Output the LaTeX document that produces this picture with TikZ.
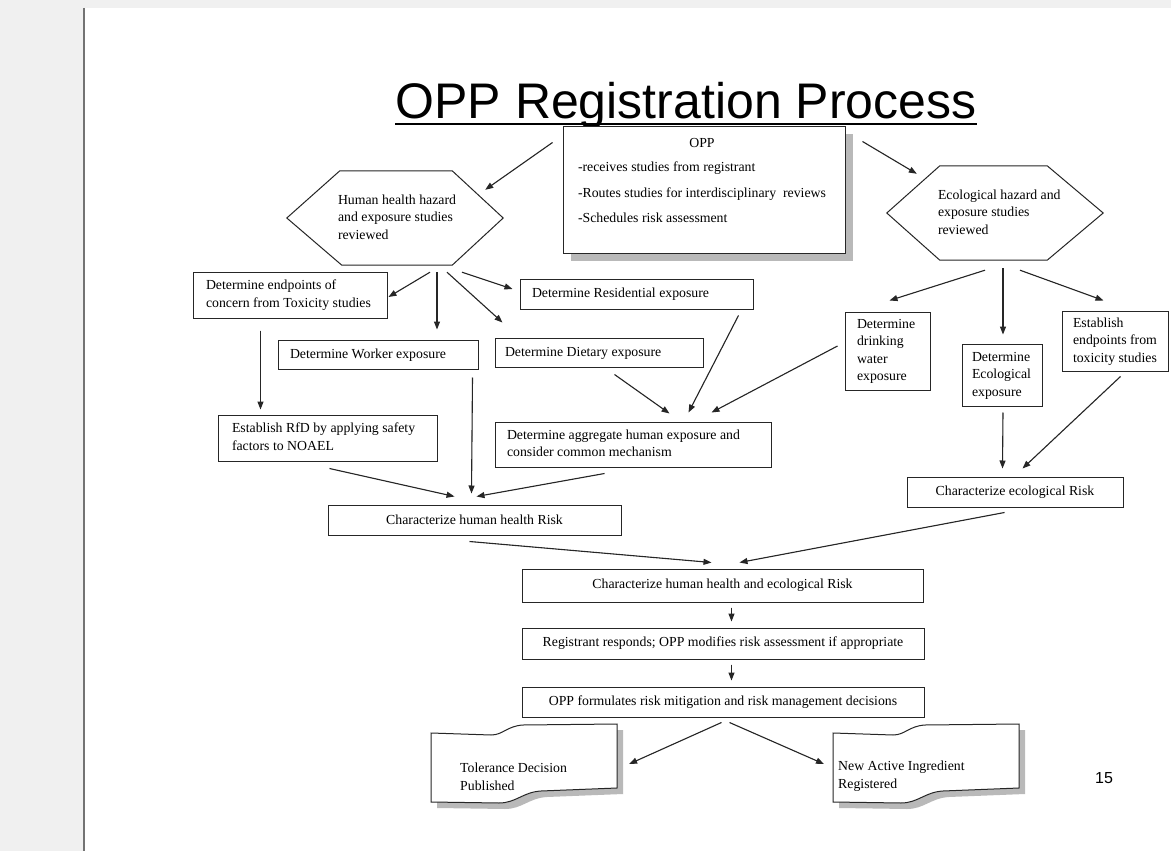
\documentclass[tikz,border=0pt]{standalone}
\usepackage{fontspec}
\setmainfont{Liberation Serif}
\newfontfamily\sansf{Liberation Sans}
\usetikzlibrary{arrows.meta,calc}
\newcommand\lbx[2]{\hbox to #1pt{\begin{tabular}{@{}l@{}}#2\end{tabular}\hss}}
\tikzset{
  docshape/.pic={
    \fill[gray!55] (6,19) -- (66,21) .. controls (78,21) and (82,12) .. (98,11) -- (192,10) -- (192,74) -- (116,77) .. controls (98,78) and (91,89) .. (74,89) -- (6,88) -- cycle;
    \draw[fill=white, line width=1pt, draw=black!85] (0,13) -- (60,15) .. controls (72,15) and (76,6) .. (92,5) -- (186,4) -- (186,68) -- (110,71) .. controls (92,72) and (85,83) .. (68,83) -- (0,82) -- cycle;
  }
}
\begin{document}
\begin{tikzpicture}[x=1pt,y=-1pt,
  txt/.style={font=\fontsize{13.8}{17.5}\selectfont},
  box/.style={txt, draw=black!85, line width=1pt, fill=white, inner sep=0pt},
  hexnode/.style={txt, minimum width=216pt, minimum height=94pt, inner sep=0pt},
  arr/.style={-{Triangle[length=8pt,width=6pt]}, line width=1.1pt, draw=black!85, fill=black!85},
]
\useasboundingbox (0,0) rectangle (1171,851);
\fill[gray!12] (0,0) rectangle (1171,851);
\fill[white] (85,8) rectangle (1171,851);
\draw[black!55, line width=1.2pt] (84,8) -- (84,851);

% title
\node[font=\sansf\fontsize{50}{60}\selectfont, inner sep=0pt, anchor=base] (title) at (686,118) {OPP Registration Process};
\draw[line width=2.6pt] ($(title.base west)+(0,6)$) -- ($(title.base east)+(0,6)$);

% OPP box
\fill[gray!55] (571,134) rectangle (853,261);
\node[box, minimum width=282pt, minimum height=127pt] (opp) at (704,189.5)
  {\lbx{252}{\multicolumn{1}{@{}c@{}}{OPP}\\[6.5pt]
   -receives studies from registrant\\[8.5pt]
   -Routes studies for interdisciplinary\ \ reviews\\[7.5pt]
   -Schedules risk assessment\\[17pt]}};

% hexagons
\node[hexnode] (hh) at (395,218) {\lbx{114}{Human health hazard\\and exposure studies\\reviewed}};
\draw[line width=1pt, black!85] (hh.west) -- ($(hh.north west)+(53,0)$) -- ($(hh.north east)+(-51,0)$) -- (hh.east) -- ($(hh.south east)+(-51,0)$) -- ($(hh.south west)+(55,0)$) -- cycle;
\node[hexnode] (eh) at (995,213) {\lbx{114}{Ecological hazard and\\exposure studies\\reviewed}};
\draw[line width=1pt, black!85] (eh.west) -- ($(eh.north west)+(53,0)$) -- ($(eh.north east)+(-56,0)$) -- (eh.east) -- ($(eh.south east)+(-56,0)$) -- ($(eh.south west)+(53,0)$) -- cycle;

% human side boxes
\node[box, minimum width=194pt, minimum height=46pt] (endp) at (290,295) {\lbx{168}{Determine endpoints of\\concern from Toxicity studies}};
\node[box, minimum width=200pt, minimum height=29pt] (worker) at (378,354.5) {\lbx{176}{Determine Worker exposure}};
\node[box, minimum width=208pt, minimum height=29pt] (diet) at (599,352.5) {\lbx{188}{Determine Dietary exposure}};
\node[box, minimum width=233pt, minimum height=30pt] (resid) at (636.5,294) {\lbx{209}{Determine Residential exposure}};
\node[box, minimum width=219pt, minimum height=46pt] (rfd) at (327.5,438) {\lbx{191}{Establish RfD by applying safety\\factors to NOAEL}};
\node[box, minimum width=276pt, minimum height=45pt] (agg) at (633,444.5) {\lbx{252}{Determine aggregate human exposure and\\consider common mechanism}};
\node[box, minimum width=293pt, minimum height=30pt] (charh) at (474.5,520) {Characterize human health Risk};

% ecological side boxes
\node[box, minimum width=85pt, minimum height=78pt] (drink) at (887.5,351) {\lbx{61}{Determine\\drinking\\water\\exposure}};
\node[box, minimum width=80pt, minimum height=62pt] (ecoexp) at (1002,375) {\lbx{60}{Determine\\Ecological\\exposure}};
\node[box, minimum width=106pt, minimum height=60pt] (estab) at (1115,341) {\lbx{84}{Establish\\endpoints from\\toxicity studies}};
\node[box, minimum width=216pt, minimum height=30pt] (charE) at (1015,492) {Characterize ecological Risk};

% lower chain
\node[box, minimum width=401pt, minimum height=33pt] (comb) at (722.5,585.5) {Characterize human health and ecological Risk};
\node[box, minimum width=402pt, minimum height=31pt] (regis) at (723,643.5) {Registrant responds; OPP modifies risk assessment if appropriate};
\node[box, minimum width=402pt, minimum height=30pt] (formul) at (723,702) {OPP formulates risk mitigation and risk management decisions};

% documents
\pic at (431,720) {docshape};
\pic at (833,720) {docshape};
\node[txt, inner sep=0pt, anchor=west] (tol) at (460,778) {\begin{tabular}{@{}l@{}}Tolerance Decision\\Published\end{tabular}};
\node[txt, inner sep=0pt, anchor=west] (nai) at (838,776) {\begin{tabular}{@{}l@{}}New Active Ingredient\\Registered\end{tabular}};

\node[font=\sansf\fontsize{16}{19}\selectfont] (pg) at (1104,778) {15};

% connectors
\draw[arr] ($(opp.north west)+(-10,17)$) -- ($(hh.north east)+(-18,19)$);
\draw[arr] ($(opp.north east)+(17,16)$) -- ($(eh.north west)+(30,8)$);
\draw[arr] ($(hh.south)+(35,7)$) -- ($(endp.east)+(1,2)$);
\draw[arr] ($(hh.south)+(42,7)$) -- ($(worker.north)+(59,-10)$);
\draw[arr] ($(hh.south)+(52,7)$) -- ($(diet.north west)+(8,-15)$);
\draw[arr] ($(hh.south)+(67,7)$) -- ($(resid.west)+(-7,-5)$);
\draw[arr] ($(endp.south west)+(68,12)$) -- ($(rfd.north west)+(43,-5)$);
\draw[arr] ($(worker.south east)+(-6,8)$) -- ($(charh.north west)+(144,-11)$);
\draw[arr] ($(rfd.south west)+(112,7)$) -- ($(charh.north west)+(127,-8)$);
\draw[arr] ($(agg.south west)+(110,6)$) -- ($(charh.north west)+(149,-8)$);
\draw[arr] ($(diet.south west)+(120,7)$) -- ($(agg.north west)+(175,-8)$);
\draw[arr] ($(resid.south east)+(-15,6)$) -- ($(agg.north west)+(194,-9)$);
\draw[arr] ($(drink.west)+(-7,-5)$) -- ($(agg.north west)+(217,-9)$);
\draw[arr] ($(eh.south)+(-10,10)$) -- ($(drink.north east)+(-41,-11)$);
\draw[arr] ($(eh.south)+(8,8)$) -- ($(ecoexp.north)+(1,-9)$);
\draw[arr] ($(eh.south)+(25,10)$) -- ($(estab.north west)+(42,-10)$);
\draw[arr] ($(ecoexp.south)+(1,6)$) -- ($(charE.north west)+(96,-8)$);
\draw[arr] ($(estab.south west)+(59,5)$) -- ($(charE.north west)+(116,-8)$);
\draw[arr] ($(charh.south west)+(142,6)$) -- ($(comb.north west)+(190,-6)$);
\draw[arr] ($(charE.south west)+(98,5)$) -- ($(comb.north west)+(218,-6)$);
\draw[arr] ($(comb.south west)+(210,5)$) -- ($(regis.north west)+(210,-6)$);
\draw[arr] ($(regis.south west)+(210,5)$) -- ($(formul.north west)+(210,-6)$);
\draw[arr] ($(formul.south west)+(200,5)$) -- ($(tol.east)+(62,-14)$);
\draw[arr] ($(formul.south west)+(208,5)$) -- ($(nai.west)+(-14,-12)$);
\end{tikzpicture}
\end{document}
